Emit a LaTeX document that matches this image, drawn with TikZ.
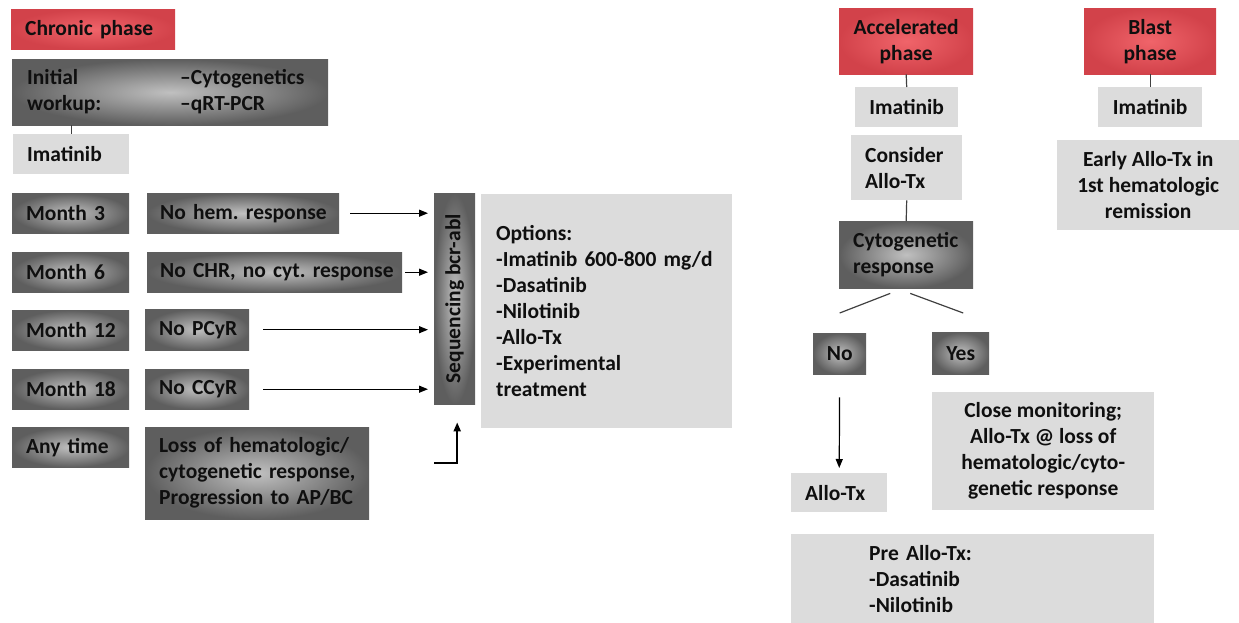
\documentclass[tikz,border=0pt]{standalone}
\usepackage{fontspec}
\setmainfont{Carlito}
\usetikzlibrary{arrows.meta}
\definecolor{redin}{RGB}{240,100,106}
\definecolor{redout}{RGB}{210,66,74}
\definecolor{darkin}{RGB}{192,192,192}
\definecolor{darkout}{RGB}{94,94,94}
\definecolor{lightfill}{RGB}{220,220,220}
\definecolor{txt}{RGB}{15,15,15}
\begin{document}
\hyphenpenalty=10000
\exhyphenpenalty=10000
\frenchspacing
\begin{tikzpicture}[x=1pt,y=-1pt,
  base/.style={anchor=north west, inner ysep=0pt, inner xsep=0pt,
    font=\bfseries\fontsize{21.5}{26}\selectfont, text=txt},
  redbox/.style={base, shading=radial, inner color=redin, outer color=redout},
  darkbox/.style={base, shading=radial, inner color=darkin, outer color=darkout},
  lightbox/.style={base, fill=lightfill},
  conn/.style={draw=black!75, line width=1.2pt},
  arr/.style={draw=black, line width=1.2pt, -{Triangle[length=9pt,width=7pt]}}
]
\useasboundingbox (0,0) rectangle (1239,623);

% ---------- Chronic phase ----------
\node[redbox, minimum width=164pt, minimum height=40pt, text width=136pt, align=left] (chronic) at (11,9) {\mbox{Chronic phase}};
\node[darkbox, minimum width=316pt, minimum height=66pt, text width=286pt, align=left] (workup) at (12,59)
  {\begin{tabular}{@{}p{153pt}@{}l@{}}Initial & \textendash Cytogenetics\\ workup: & \textendash qRT-PCR\end{tabular}};
\node[lightbox, minimum width=116pt, minimum height=40pt, text width=88pt, align=left] (imat1) at (13,134) {Imatinib};

\node[darkbox, minimum width=117pt, minimum height=40pt, text width=89pt, align=left] (m3) at (12,193) {\mbox{Month 3}};
\node[darkbox, minimum width=117pt, minimum height=40pt, text width=89pt, align=left] (m6) at (12,252) {\mbox{Month 6}};
\node[darkbox, minimum width=117pt, minimum height=40pt, text width=89pt, align=left] (m12) at (12,310) {\mbox{Month 12}};
\node[darkbox, minimum width=117pt, minimum height=40pt, text width=89pt, align=left] (m18) at (12,369) {\mbox{Month 18}};
\node[darkbox, minimum width=117pt, minimum height=40pt, text width=89pt, align=left] (any) at (12,427) {\mbox{Any time}};

\node[darkbox, minimum width=192pt, minimum height=40pt, text width=166pt, align=left] (r3) at (147,193) {\mbox{No hem. response}};
\node[darkbox, minimum width=255pt, minimum height=40pt, text width=229pt, align=left] (r6) at (147,252) {\mbox{No CHR, no cyt. response}};
\node[darkbox, minimum width=104pt, minimum height=41pt, text width=76pt, align=left] (r12) at (145,309) {\mbox{No PCyR}};
\node[darkbox, minimum width=104pt, minimum height=40pt, text width=76pt, align=left] (r18) at (145,369) {\mbox{No CCyR}};
\node[darkbox, minimum width=224pt, minimum height=92pt, text width=196pt, align=left] (rany) at (145,427)
  {\mbox{Loss of hematologic/}\\\mbox{cytogenetic response,}\\\mbox{Progression to AP/BC}};

\node[darkbox, minimum width=41pt, minimum height=211pt, align=center] (seq) at (434,193) {\rotatebox{90}{Sequencing bcr-abl}};

\node[lightbox, minimum width=251pt, minimum height=234pt, text width=221pt, align=left] (opt) at (481,194)
  {Options:\\\mbox{-Imatinib 600-800 mg/d}\\-Dasatinib\\-Nilotinib\\-Allo-Tx\\-Experimental\\treatment};

\coordinate (elb) at (434,463);

% ---------- Accelerated phase ----------
\node[redbox, minimum width=134pt, minimum height=66pt, align=center] (accel) at (839,8) {Accelerated\\phase};
\node[lightbox, minimum width=103pt, minimum height=40pt, align=center] (imat2) at (855,87) {Imatinib};
\node[lightbox, minimum width=111pt, minimum height=65pt, text width=83pt, align=left] (consider) at (851,135) {Consider\\Allo-Tx};
\node[darkbox, minimum width=134pt, minimum height=67pt, text width=106pt, align=left] (cyto) at (839,221) {Cytogenetic\\response};
\node[darkbox, minimum width=53pt, minimum height=41pt, align=center] (no) at (813,333) {No};
\node[darkbox, minimum width=57pt, minimum height=42pt, align=center] (yes) at (932,332) {Yes};
\node[lightbox, minimum width=96pt, minimum height=39pt, text width=68pt, align=left] (allotx) at (791,473) {Allo-Tx};
\node[lightbox, minimum width=222pt, minimum height=118pt, align=center] (close) at (932,392)
  {Close monitoring;\\Allo-Tx @ loss of\\hematologic/cyto-\\genetic response};
\node[lightbox, minimum width=363pt, minimum height=89pt, text width=207pt, align=left] (pre) at (791,534)
  {\mbox{Pre Allo-Tx:}\\-Dasatinib\\-Nilotinib};

% ---------- Blast phase ----------
\node[redbox, minimum width=132pt, minimum height=66pt, align=center] (blast) at (1084,8) {Blast\\phase};
\node[lightbox, minimum width=104pt, minimum height=40pt, align=center] (imat3) at (1098,87) {Imatinib};
\node[lightbox, minimum width=182pt, minimum height=90pt, align=center] (early) at (1057,140)
  {Early Allo-Tx in\\1st hematologic\\remission};

% ---------- connectors ----------
\draw[conn] (imat1.north) -- (imat1.north |- workup.south);
\draw[arr, shorten <=11pt, shorten >=6pt] (r3.east) -- (r3.east -| seq.west);
\draw[arr, shorten <=3pt, shorten >=6pt] (r6.east) -- (r6.east -| seq.west);
\draw[arr, shorten <=14pt, shorten >=6pt] (r12.east) -- (r12.east -| seq.west);
\draw[arr, shorten <=14pt, shorten >=6pt] (r18.east) -- (r18.east -| seq.west);
\draw[arr, line width=2pt, shorten >=18pt] (elb) -| ([xshift=2.5pt]seq.south);

\draw[conn] (accel.south) -- (imat2.north);
\draw[conn] (consider.south) -- (cyto.north);
\draw[conn] ([xshift=-16pt,yshift=-5pt]cyto.south) -- ([yshift=20pt]no.north);
\draw[conn] ([xshift=4pt,yshift=-5pt]cyto.south) -- ([xshift=2.5pt,yshift=19pt]yes.north);
\draw[arr, shorten <=23pt, shorten >=5pt] (no.south) -- (allotx.north);
\draw[conn] (blast.south) -- (imat3.north);
\end{tikzpicture}
\end{document}
